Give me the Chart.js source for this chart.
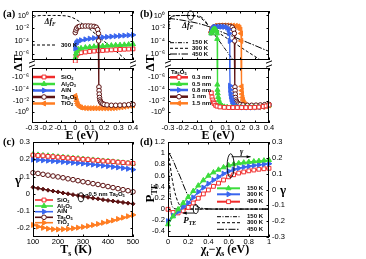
<!DOCTYPE html>
<html>
<head>
<meta charset="utf-8">
<script src="https://cdn.jsdelivr.net/npm/chart.js@4.4.1/dist/chart.umd.min.js"></script>
<style>
  html, body { margin: 0; padding: 0; background: #fff; }
  #fig { position: relative; width: 366px; height: 259px; overflow: hidden; }
  #fig canvas { position: absolute; left: 0; top: 0; }
</style>
</head>
<body>
<div id="fig">
  <canvas id="aTop" width="366" height="259"></canvas>
  <canvas id="aBot" width="366" height="259"></canvas>
  <canvas id="bTop" width="366" height="259"></canvas>
  <canvas id="bBot" width="366" height="259"></canvas>
  <canvas id="cBox" width="366" height="259"></canvas>
  <canvas id="dBox" width="366" height="259"></canvas>
</div>
<script>
// --- データ ---
// (a) 300 K の ΔF
const eDfA = [-0.29, -0.28, -0.26, -0.22, -0.15, -0.1, -0.06, -0.03, 0, 0.03, 0.05, 0.08, 0.1, 0.15, 0.2, 0.25, 0.3, 0.35, 0.4];
const dfA300 = [4.0e-1, 7.1e-1, 8.9e-1, 1.0, 1.0, 9.5e-1, 8.3e-1, 5.6e-1, 2.8e-1, 1.0e-1, 4.5e-2, 1.6e-2, 7.1e-3, 7.9e-4, 8.9e-5, 1.0e-5, 1.1e-6, 1.1e-7, 1.3e-8];

// (a) 材料ごとの ΔT
const eMatA = [0, 0.005, 0.01, 0.02, 0.04, 0.07, 0.1, 0.13, 0.16, 0.19, 0.22, 0.25, 0.28, 0.31, 0.34, 0.37, 0.4];
const sio2A = [6.3e-8, 4.0e-7, 7.9e-7, 1.12e-6, 1.41e-6, 1.78e-6, 2.19e-6, 2.51e-6, 2.88e-6, 3.16e-6, 3.55e-6, 3.89e-6, 4.27e-6, 4.57e-6, 4.9e-6, 5.25e-6, 5.62e-6];
const al2o3A = [2.0e-7, 1.0e-6, 2.5e-6, 5.0e-6, 7.1e-6, 9.3e-6, 1.12e-5, 1.29e-5, 1.45e-5, 1.58e-5, 1.78e-5, 1.95e-5, 2.14e-5, 2.29e-5, 2.51e-5, 2.75e-5, 3.02e-5];
const alnA = [6.3e-6, 3.2e-5, 5.6e-5, 8.9e-5, 1.26e-4, 1.74e-4, 2.24e-4, 2.69e-4, 3.16e-4, 3.63e-4, 4.17e-4, 4.79e-4, 5.5e-4, 6.17e-4, 6.92e-4, 7.76e-4, 8.71e-4];
// Ta2O5 1 nm ((a) と (b) で共通)
const eTa1 = [0, 0.005, 0.01, 0.02, 0.03, 0.05, 0.07, 0.09, 0.11, 0.13, 0.145, 0.155, 0.16, 0.162, 0.164, 0.165, 0.166, 0.168, 0.171, 0.175, 0.18, 0.19, 0.2, 0.22, 0.25, 0.28, 0.31, 0.34, 0.37, 0.4];
const ta1 = [2.0e-3, 5.0e-3, 1.0e-2, 1.6e-2, 1.9e-2, 2.1e-2, 2.2e-2, 2.2e-2, 2.1e-2, 1.9e-2, 1.4e-2, 6.0e-3, 1.5e-3, 1.0e-4, -5.0e-5, -2.0e-4, -8.0e-4, -3.0e-3, -8.0e-3, -1.5e-2, -2.5e-2, -3.5e-2, -4.5e-2, -5.5e-2, -6.3e-2, -6.3e-2, -6.0e-2, -5.6e-2, -5.0e-2, -4.5e-2];
const eTiA = [0, 0.005, 0.01, 0.015, 0.02, 0.03, 0.04, 0.06, 0.08, 0.1, 0.12, 0.14, 0.16, 0.18, 0.2, 0.22, 0.24, 0.26, 0.28, 0.3, 0.32, 0.34, 0.36, 0.38, 0.4];
const tio2A = [-1.6e-3, -4.0e-3, -1.26e-2, -3.2e-2, -6.3e-2, -1.12e-1, -1.51e-1, -1.82e-1, -1.95e-1, -2.0e-1, -2.0e-1, -2.0e-1, -2.0e-1, -2.0e-1, -2.0e-1, -2.0e-1, -2.0e-1, -1.91e-1, -1.74e-1, -1.51e-1, -1.32e-1, -1.12e-1, -9.3e-2, -7.6e-2, -6.0e-2];

// (b) 温度ごとの ΔF
const eDfB = [-0.3, -0.29, -0.28, -0.26, -0.22, -0.18, -0.14, -0.1, -0.07, -0.04, -0.016, 0, 0.05, 0.1, 0.15, 0.2, 0.25, 0.3, 0.35, 0.4];
const df150 = [6.3e-4, 6.3e-2, 5.0e-1, 8.9e-1, 1.0, 1.0, 1.0, 8.9e-1, 5.6e-1, 1.26e-1, 1.58e-2, 5.0e-3, 1.41e-4, 4.0e-6, 1.12e-7, 3.2e-9, 1.0e-10, 3.2e-12, 1.0e-13, 3.2e-15];
const df300 = [3.2e-2, 2.5e-1, 5.6e-1, 8.3e-1, 9.5e-1, 1.0, 9.3e-1, 7.1e-1, 3.5e-1, 7.9e-2, 1.78e-2, 1.05e-2, 1.9e-3, 3.5e-4, 6.5e-5, 1.17e-5, 2.1e-6, 4.0e-7, 7.1e-8, 1.26e-8];
const df450 = [3.5e-1, 3.4e-1, 3.2e-1, 2.8e-1, 2.1e-1, 1.48e-1, 1.0e-1, 6.3e-2, 4.2e-2, 2.7e-2, 1.74e-2, 1.2e-2, 4.0e-3, 1.41e-3, 5.0e-4, 1.66e-4, 5.8e-5, 2.0e-5, 6.6e-6, 2.24e-6];

// (b) Ta2O5 膜厚ごとの ΔT
const e03 = [0, 0.005, 0.01, 0.015, 0.02, 0.03, 0.04, 0.06, 0.09, 0.12, 0.15, 0.18, 0.21, 0.24, 0.27, 0.3, 0.33, 0.36, 0.38, 0.4];
const t03 = [-5.0e-4, -2.5e-3, -7.9e-3, -1.78e-2, -3.16e-2, -6.3e-2, -8.9e-2, -1.2e-1, -1.41e-1, -1.51e-1, -1.51e-1, -1.51e-1, -1.51e-1, -1.51e-1, -1.51e-1, -1.41e-1, -1.26e-1, -1.0e-1, -7.9e-2, -5.6e-2];
const e05 = [0, 0.005, 0.01, 0.015, 0.02, 0.025, 0.03, 0.035, 0.039, 0.041, 0.042, 0.043, 0.045, 0.048, 0.052, 0.058, 0.065, 0.075, 0.09, 0.11, 0.14, 0.17, 0.2, 0.23, 0.26, 0.29, 0.32, 0.35, 0.38, 0.4];
const t05 = [1.5e-3, 3.0e-3, 5.0e-3, 6.5e-3, 7.0e-3, 7.0e-3, 6.0e-3, 4.0e-3, 1.5e-3, 2.0e-4, -2.0e-5, -1.5e-4, -6.0e-4, -2.5e-3, -8.0e-3, -2.5e-2, -5.0e-2, -8.0e-2, -1.1e-1, -1.3e-1, -1.45e-1, -1.5e-1, -1.5e-1, -1.5e-1, -1.5e-1, -1.45e-1, -1.35e-1, -1.15e-1, -8.5e-2, -6.5e-2];
const e08 = [0, 0.005, 0.01, 0.02, 0.03, 0.05, 0.07, 0.09, 0.11, 0.12, 0.125, 0.128, 0.13, 0.131, 0.133, 0.136, 0.14, 0.145, 0.152, 0.16, 0.17, 0.19, 0.22, 0.25, 0.28, 0.31, 0.34, 0.37, 0.4];
const t08 = [2.0e-3, 5.0e-3, 9.0e-3, 1.4e-2, 1.6e-2, 1.7e-2, 1.7e-2, 1.6e-2, 1.2e-2, 6.0e-3, 1.5e-3, 1.0e-4, -3.0e-5, -1.5e-4, -6.0e-4, -2.0e-3, -6.0e-3, -1.5e-2, -3.5e-2, -6.0e-2, -9.0e-2, -1.2e-1, -1.4e-1, -1.5e-1, -1.5e-1, -1.45e-1, -1.3e-1, -1.05e-1, -7.0e-2];
const e15 = [0, 0.005, 0.01, 0.02, 0.03, 0.05, 0.07, 0.09, 0.11, 0.13, 0.15, 0.17, 0.185, 0.195, 0.202, 0.206, 0.208, 0.21, 0.211, 0.213, 0.216, 0.22, 0.225, 0.232, 0.24, 0.25, 0.27, 0.3, 0.33, 0.36, 0.38, 0.4];
const t15 = [2.5e-3, 6.0e-3, 1.2e-2, 1.9e-2, 2.3e-2, 2.6e-2, 2.7e-2, 2.7e-2, 2.7e-2, 2.6e-2, 2.5e-2, 2.3e-2, 1.9e-2, 1.3e-2, 6.0e-3, 1.5e-3, 1.0e-4, -4.0e-5, -2.0e-4, -8.0e-4, -3.0e-3, -8.0e-3, -2.0e-2, -4.0e-2, -6.5e-2, -9.0e-2, -1.2e-1, -1.4e-1, -1.4e-1, -1.2e-1, -9.0e-2, -6.5e-2];

// (c) γ vs Ts
const tsK = [100, 120, 140, 160, 180, 200, 220, 240, 260, 280, 300, 320, 340, 360, 380, 400, 420, 440, 460, 480, 500];
const gSiO2 = [0.224, 0.222, 0.220, 0.217, 0.215, 0.212, 0.210, 0.207, 0.205, 0.202, 0.200, 0.198, 0.195, 0.193, 0.190, 0.188, 0.186, 0.183, 0.181, 0.178, 0.176];
const gAl2O3 = [0.228, 0.226, 0.223, 0.221, 0.218, 0.215, 0.213, 0.210, 0.207, 0.205, 0.202, 0.199, 0.197, 0.194, 0.191, 0.189, 0.186, 0.183, 0.180, 0.178, 0.175];
const gAlN = [0.198, 0.196, 0.194, 0.192, 0.190, 0.188, 0.185, 0.183, 0.180, 0.178, 0.175, 0.172, 0.169, 0.166, 0.163, 0.160, 0.156, 0.153, 0.149, 0.145, 0.140];
const gTa2O5 = [0.122, 0.118, 0.113, 0.108, 0.103, 0.098, 0.093, 0.087, 0.082, 0.076, 0.070, 0.065, 0.059, 0.054, 0.048, 0.042, 0.036, 0.030, 0.024, 0.018, 0.012];
const gTa05 = [0.038, 0.032, 0.027, 0.021, 0.016, 0.011, 0.005, 0.000, -0.005, -0.010, -0.015, -0.020, -0.025, -0.029, -0.034, -0.038, -0.042, -0.046, -0.050, -0.054, -0.058];
const gTiO2 = [-0.180, -0.190, -0.197, -0.202, -0.205, -0.206, -0.205, -0.203, -0.200, -0.196, -0.192, -0.187, -0.181, -0.175, -0.168, -0.161, -0.154, -0.146, -0.138, -0.130, -0.122];

// (d) γ と P_TE vs χt-χs
const chi = [0, 0.05, 0.1, 0.15, 0.2, 0.25, 0.3, 0.35, 0.4, 0.45, 0.5, 0.55, 0.6, 0.65, 0.7, 0.75, 0.8, 0.85, 0.9, 0.95, 1.0];
const g150 = [-0.22, -0.17, -0.125, -0.085, -0.048, -0.01, 0.025, 0.058, 0.087, 0.108, 0.125, 0.14, 0.152, 0.16, 0.166, 0.17, 0.174, 0.177, 0.18, 0.183, 0.186];
const g300 = [-0.2, -0.165, -0.14, -0.11, -0.085, -0.05, -0.015, 0.012, 0.037, 0.06, 0.08, 0.1, 0.116, 0.127, 0.135, 0.142, 0.147, 0.152, 0.156, 0.16, 0.163];
const g450 = [-0.125, -0.145, -0.148, -0.135, -0.113, -0.085, -0.055, -0.028, -0.003, 0.02, 0.04, 0.06, 0.08, 0.093, 0.104, 0.111, 0.118, 0.123, 0.128, 0.131, 0.134];
const chiP = [0, 0.01, 0.02, 0.03, 0.04, 0.05, 0.06, 0.08, 0.1, 0.12, 0.15, 0.18, 0.2, 0.25, 0.3, 0.35, 0.4, 0.5, 0.6, 0.8, 1.0];
const p150 = [1.0, 0.6, 0.3, 0.14, 0.06, 0.025, 0.01, 0.002, 0, 0, 0, 0, 0, 0, 0, 0, 0, 0, 0, 0, 0];
const p300 = [1.0, 0.92, 0.8, 0.67, 0.55, 0.45, 0.36, 0.22, 0.12, 0.06, 0.02, 0.006, 0.003, 0, 0, 0, 0, 0, 0, 0, 0];
const p450 = [1.0, 0.99, 0.97, 0.94, 0.9, 0.87, 0.83, 0.74, 0.66, 0.58, 0.44, 0.31, 0.23, 0.11, 0.035, 0.01, 0.003, 0, 0, 0, 0];

// 目盛り
const eTicks = [-0.3, -0.2, -0.1, 0, 0.1, 0.2, 0.3, 0.4];
const logTicks = [1, 1e-2, 1e-4, 1e-6];
const logPosLabels = ['10⁰', '10⁻²', '10⁻⁴', '10⁻⁶'];
const logNegTicks = [1e-6, 1e-4, 1e-2, 1];
const logNegLabels = ['-10⁻⁶', '-10⁻⁴', '-10⁻²', '-10⁰'];
const tsTicks = [100, 200, 300, 400, 500];
const gTicksC = [-0.2, -0.1, 0, 0.1, 0.2, 0.3];
const chiTicks = [0, 0.2, 0.4, 0.6, 0.8, 1];
const pTicks = [-0.4, -0.2, 0, 0.2, 0.4, 0.6, 0.8, 1, 1.2];
const gTicksD = [-0.3, -0.2, -0.1, 0, 0.1, 0.2, 0.3];

// --- 見た目 ---
const W = 366, H = 259, YW = 30;
const SANS = 'Liberation Sans', SERIF = 'Liberation Serif';
Chart.defaults.font.family = SANS;
Chart.defaults.font.size = 7.5;
Chart.defaults.color = '#000';

const ST = {
  sio2: { c: '#f02c2c', ps: 'rect', open: true, r: 2.7 },
  al2o3: { c: '#3cdc3c', ps: 'triangle', r: 2.9 },
  aln: { c: '#3a66ee', ps: 'triangle', rot: 90, r: 2.9 },
  ta2o5: { c: '#5c1212', ps: 'circle', open: true, r: 2.3 },
  tio2: { c: '#ff7d22', ps: 'triangle', rot: -90, r: 2.9 },
  tio2c: { c: '#ff7d22', ps: 'triangle', rot: 90, r: 2.9 },
  ta05: { c: '#5c1212', ps: 'rectRot', r: 2.0 },
};
const DASH = { k150: [4, 1.5, 1, 1.5], k300: [3, 2], k450: [7, 1.5, 1.5, 1.5] };
const LBL = {
  sio2: [['SiO', 0], ['2', 1]],
  al2o3: [['Al', 0], ['2', 1], ['O', 0], ['3', 1]],
  aln: [['AlN', 0]],
  ta2o5: [['Ta', 0], ['2', 1], ['O', 0], ['5', 1]],
  tio2: [['TiO', 0], ['2', 1]],
};

// 正負で分割表示 (対数軸の上下)
const TINY = 1e-12;
const pts = (xs, ys) => xs.map((x, i) => ({ x, y: ys[i] }));
const upper = (xs, ys) => xs.map((x, i) => ({ x, y: ys[i] > 0 ? ys[i] : TINY }));
const lower = (xs, ys) => xs.map((x, i) => ({ x, y: ys[i] < 0 ? -ys[i] : TINY }));

function series(label, data, st, extra) {
  return Object.assign({
    label, data, borderColor: st.c, borderWidth: 1.3, tension: 0,
    pointStyle: st.ps, pointRotation: st.rot || 0, pointRadius: st.r,
    pointBackgroundColor: st.open ? '#fff' : st.c, pointBorderColor: st.c, pointBorderWidth: 1,
  }, extra);
}
function curve(label, data, dash, extra) {
  return Object.assign({
    label, data, borderColor: '#000', borderWidth: 1, borderDash: dash,
    pointRadius: 0, cubicInterpolationMode: 'monotone',
  }, extra);
}

function axisX(min, max, ticks, show) {
  const s = {
    type: 'linear', min, max, display: show,
    afterBuildTicks: sc => { sc.ticks = ticks.map(v => ({ value: v })); },
    grid: { display: false, drawTicks: false }, border: { display: false },
    ticks: { autoSkip: false, maxRotation: 0, minRotation: 0, padding: 0, callback: v => String(v) },
  };
  if (show) s.afterFit = sc => { sc.height = 16; };
  return s;
}
function axisY(type, min, max, ticks, labels, extra) {
  return Object.assign({
    type, min, max, position: 'left',
    afterBuildTicks: sc => { sc.ticks = ticks.map(v => ({ value: v })); },
    afterFit: sc => { sc.width = YW; },
    grid: { display: false, drawTicks: false }, border: { display: false },
    ticks: { autoSkip: false, padding: 3, callback: (v, i) => labels[i] },
  }, extra);
}

const framePlugin = {
  id: 'frame',
  afterDatasetsDraw(chart) {
    const { ctx, chartArea: a, scales } = chart;
    ctx.save();
    ctx.strokeStyle = '#000';
    ctx.lineWidth = 1;
    ctx.strokeRect(a.left + 0.5, a.top + 0.5, a.right - a.left - 1, a.bottom - a.top - 1);
    ctx.beginPath();
    const tl = 2.5;
    for (const t of scales.x.ticks) {
      const p = Math.round(scales.x.getPixelForValue(t.value)) + 0.5;
      ctx.moveTo(p, a.bottom); ctx.lineTo(p, a.bottom - tl);
      ctx.moveTo(p, a.top); ctx.lineTo(p, a.top + tl);
    }
    const ys = Object.values(scales).filter(s => s.axis === 'y');
    for (const s of ys) {
      for (const t of s.ticks) {
        const p = Math.round(s.getPixelForValue(t.value)) + 0.5;
        if (s.position === 'left') {
          ctx.moveTo(a.left, p); ctx.lineTo(a.left + tl, p);
          if (ys.length === 1) { ctx.moveTo(a.right, p); ctx.lineTo(a.right - tl, p); }
        } else {
          ctx.moveTo(a.right, p); ctx.lineTo(a.right - tl, p);
        }
      }
    }
    ctx.stroke();
    ctx.restore();
  },
};

function panel(id, box, datasets, scales, draw) {
  const pad = { left: box.l - YW, top: box.t, right: W - box.r - (box.rw || 0), bottom: H - box.b - (box.xh || 0) };
  return new Chart(document.getElementById(id), {
    type: 'line',
    data: { datasets },
    options: {
      responsive: false, animation: false, events: [],
      layout: { padding: pad },
      plugins: { legend: { display: false }, tooltip: { enabled: false } },
      scales,
    },
    plugins: [framePlugin, { id: 'extras', afterDraw: c => { if (draw) draw(c.ctx, c); } }],
  });
}

// --- 文字・凡例の描画 ---
function rich(ctx, x, y, segs, size, opt) {
  opt = Object.assign({ family: SERIF, weight: 'bold', align: 'center', rot: 0 }, opt);
  const fontOf = k => `${(k & 2) ? 'italic ' : ''}${opt.weight} ${(k & 1) ? size * 0.65 : size}px "${opt.family}"`;
  ctx.save();
  ctx.translate(x, y);
  if (opt.rot) ctx.rotate(opt.rot);
  let w = 0;
  segs.forEach(([t, k]) => { ctx.font = fontOf(k); w += ctx.measureText(t).width; });
  let cx = opt.align === 'center' ? -w / 2 : opt.align === 'right' ? -w : 0;
  ctx.textBaseline = 'middle';
  ctx.textAlign = 'left';
  ctx.fillStyle = '#000';
  segs.forEach(([t, k]) => {
    ctx.font = fontOf(k);
    ctx.fillText(t, cx, (k & 1) ? size * 0.3 : 0);
    cx += ctx.measureText(t).width;
  });
  ctx.restore();
}
function mark(ctx, st, x, y) {
  ctx.save();
  ctx.translate(x, y);
  ctx.rotate((st.rot || 0) * Math.PI / 180);
  const r = st.r;
  ctx.beginPath();
  if (st.ps === 'rect') { const s = r * Math.SQRT1_2; ctx.rect(-s, -s, 2 * s, 2 * s); }
  else if (st.ps === 'rectRot') { ctx.moveTo(0, -r); ctx.lineTo(r, 0); ctx.lineTo(0, r); ctx.lineTo(-r, 0); ctx.closePath(); }
  else if (st.ps === 'circle') ctx.arc(0, 0, r, 0, Math.PI * 2);
  else { ctx.moveTo(0, -r); ctx.lineTo(r * 0.866, r * 0.5); ctx.lineTo(-r * 0.866, r * 0.5); ctx.closePath(); }
  ctx.fillStyle = st.open ? '#fff' : st.c;
  ctx.fill();
  ctx.lineWidth = 1;
  ctx.strokeStyle = st.c;
  ctx.stroke();
  ctx.restore();
}
function seg(ctx, x0, y0, x1, y1, color, lw, dash) {
  ctx.save();
  ctx.strokeStyle = color; ctx.lineWidth = lw; ctx.setLineDash(dash || []);
  ctx.beginPath(); ctx.moveTo(x0, y0); ctx.lineTo(x1, y1); ctx.stroke();
  ctx.restore();
}
function legendRow(ctx, st, x0, x1, y, label, tx, lw, dash) {
  seg(ctx, x0, y, x1, y, st ? st.c : '#000', lw, dash);
  if (st) mark(ctx, st, (x0 + x1) / 2, y);
  rich(ctx, tx, y, label, 6, { family: SANS, align: 'left' });
}
function ellipse(ctx, cx, cy, rx, ry) {
  ctx.save();
  ctx.strokeStyle = '#000'; ctx.lineWidth = 0.9;
  ctx.beginPath(); ctx.ellipse(cx, cy, rx, ry, 0, 0, Math.PI * 2); ctx.stroke();
  ctx.restore();
}
function arrow(ctx, x0, y0, x1, y1) {
  seg(ctx, x0, y0, x1, y1, '#000', 0.9);
  const a = Math.atan2(y1 - y0, x1 - x0);
  ctx.save();
  ctx.fillStyle = '#000';
  ctx.beginPath();
  ctx.moveTo(x1, y1);
  ctx.lineTo(x1 - 4 * Math.cos(a) + 1.6 * Math.sin(a), y1 - 4 * Math.sin(a) - 1.6 * Math.cos(a));
  ctx.lineTo(x1 - 4 * Math.cos(a) - 1.6 * Math.sin(a), y1 - 4 * Math.sin(a) + 1.6 * Math.cos(a));
  ctx.closePath(); ctx.fill();
  ctx.restore();
}
function breakMarks(ctx, xs) {
  xs.forEach(x => {
    [62, 66].forEach(y => seg(ctx, x - 3, y + 1.2, x + 3, y - 1.2, '#000', 1));
  });
}

const clipTop = { left: 4, right: 4, top: 4, bottom: 8 };
const clipBot = { left: 4, right: 4, top: 8, bottom: 4 };
const clipPlain = { left: 4, right: 4, top: 4, bottom: 3 };

// --- (a) ---
panel('aTop', { l: 32, t: 11, r: 133, b: 60 }, [
  series('Ta₂O₅', upper(eTa1, ta1), ST.ta2o5, { clip: clipTop }),
  series('AlN', pts(eMatA, alnA), ST.aln, { clip: clipPlain }),
  series('Al₂O₃', pts(eMatA, al2o3A), ST.al2o3, { clip: clipPlain }),
  series('SiO₂', pts(eMatA, sio2A), ST.sio2, { clip: clipPlain }),
  curve('ΔF 300 K', pts(eDfA, dfA300), DASH.k300),
], {
  x: axisX(-0.3, 0.4, eTicks, false),
  y: axisY('logarithmic', 1e-7, 5.01, logTicks, logPosLabels),
}, ctx => {
  rich(ctx, 3, 14, [['(a)', 0]], 10.5, { align: 'left' });
  seg(ctx, 32, 45, 57, 45, '#000', 1, DASH.k300);
  rich(ctx, 61, 45, [['300 K', 0]], 6, { family: SANS, align: 'left' });
  rich(ctx, 50, 22, [['Δf', 2], ['F', 3]], 8);
});

panel('aBot', { l: 32, t: 68, r: 133, b: 123, xh: 16 }, [
  series('Ta₂O₅', lower(eTa1, ta1), ST.ta2o5, { clip: clipBot }),
  series('TiO₂', lower(eTiA, tio2A), ST.tio2, { clip: clipBot }),
], {
  x: axisX(-0.3, 0.4, eTicks, true),
  y: axisY('logarithmic', 3.16e-8, 63.1, logNegTicks, logNegLabels, { reverse: true }),
}, ctx => {
  breakMarks(ctx, [32, 133]);
  rich(ctx, 19, 63, [['ΔT', 0]], 13, { rot: -Math.PI / 2 });
  rich(ctx, 82, 136, [['E (eV)', 0]], 12);
  const ys = [77, 84, 90.5, 97, 103.5];
  ['sio2', 'al2o3', 'aln', 'ta2o5', 'tio2'].forEach((k, i) => legendRow(ctx, ST[k], 33, 55, ys[i], LBL[k], 61, 2.5));
});

// --- (b) ---
panel('bTop', { l: 168, t: 11, r: 269, b: 60 }, [
  series('0.5 nm', upper(e05, t05), ST.al2o3, { clip: clipTop }),
  series('0.8 nm', upper(e08, t08), ST.aln, { clip: clipTop }),
  series('1 nm', upper(eTa1, ta1), ST.ta2o5, { clip: clipTop }),
  series('1.5 nm', upper(e15, t15), ST.tio2, { clip: clipTop }),
  curve('150 K', pts(eDfB, df150), DASH.k150),
  curve('300 K', pts(eDfB, df300), DASH.k300),
  curve('450 K', pts(eDfB, df450), DASH.k450),
], {
  x: axisX(-0.3, 0.4, eTicks, false),
  y: axisY('logarithmic', 1e-7, 5.01, logTicks, logPosLabels),
}, (ctx, c) => {
  rich(ctx, 140, 14, [['(b)', 0]], 10.5, { align: 'left' });
  const labs = ['150 K', '300 K', '450 K'];
  [DASH.k150, DASH.k300, DASH.k450].forEach((d, i) => legendRow(ctx, null, 170, 188, [42.7, 48.3, 54][i], [[labs[i], 0]], 192, 1, d));
  const ex = c.scales.x.getPixelForValue(-0.143), ey = c.scales.y.getPixelForValue(1);
  ellipse(ctx, ex, ey, 3, 4.5);
  rich(ctx, ex - 3, ey + 10, [['Δf', 2], ['F', 3]], 8);
});

panel('bBot', { l: 168, t: 68, r: 269, b: 123, xh: 16 }, [
  series('0.3 nm', lower(e03, t03), ST.sio2, { clip: clipBot }),
  series('0.5 nm', lower(e05, t05), ST.al2o3, { clip: clipBot }),
  series('0.8 nm', lower(e08, t08), ST.aln, { clip: clipBot }),
  series('1 nm', lower(eTa1, ta1), ST.ta2o5, { clip: clipBot }),
  series('1.5 nm', lower(e15, t15), ST.tio2, { clip: clipBot }),
], {
  x: axisX(-0.3, 0.4, eTicks, true),
  y: axisY('logarithmic', 3.16e-8, 63.1, logNegTicks, logNegLabels, { reverse: true }),
}, ctx => {
  breakMarks(ctx, [168, 269]);
  rich(ctx, 150.5, 63, [['ΔT', 0]], 13, { rot: -Math.PI / 2 });
  rich(ctx, 218, 136, [['E (eV)', 0]], 12);
  rich(ctx, 171, 72, LBL.ta2o5, 6, { family: SANS, align: 'left' });
  const labs = ['0.3 nm', '0.5 nm', '0.8 nm', '1 nm', '1.5 nm'];
  const ys = [77.3, 84, 90, 96.7, 103.3];
  ['sio2', 'al2o3', 'aln', 'ta2o5', 'tio2'].forEach((k, i) => legendRow(ctx, ST[k], 170, 188, ys[i], [[labs[i], 0]], 192, 2.5));
});

// --- (c) ---
panel('cBox', { l: 33, t: 142, r: 133, b: 237, xh: 16 }, [
  series('SiO₂', pts(tsK, gSiO2), ST.sio2, { clip: clipPlain }),
  series('Al₂O₃', pts(tsK, gAl2O3), ST.al2o3, { clip: clipPlain }),
  series('AlN', pts(tsK, gAlN), ST.aln, { clip: clipPlain }),
  series('Ta₂O₅', pts(tsK, gTa2O5), ST.ta2o5, { clip: clipPlain }),
  series('0.5 nm Ta₂O₅', pts(tsK, gTa05), ST.ta05, { clip: clipPlain }),
  series('TiO₂', pts(tsK, gTiO2), ST.tio2c, { clip: clipPlain }),
], {
  x: axisX(100, 500, tsTicks, true),
  y: axisY('linear', -0.25, 0.3, gTicksC, gTicksC.map(String)),
}, (ctx, c) => {
  rich(ctx, 3, 142.5, [['(c)', 0]], 10.5, { align: 'left' });
  rich(ctx, 18, 181, [['γ', 0]], 13);
  rich(ctx, 76, 250, [['T', 0], ['s', 1], [' (K)', 0]], 12);
  const ys = [200, 206, 211.7, 217.3, 222.7];
  ['sio2', 'al2o3', 'aln', 'ta2o5', 'tio2c'].forEach((k, i) => legendRow(ctx, ST[k], 35, 53, ys[i], LBL[k === 'tio2c' ? 'tio2' : k], 57, 1.6));
  const ex = c.scales.x.getPixelForValue(292), ey = c.scales.y.getPixelForValue(-0.02);
  ellipse(ctx, ex, ey, 2.8, 4.5);
  seg(ctx, ex + 2.8, ey - 1.5, ex + 7, ey - 3, '#000', 0.9);
  rich(ctx, ex + 7.5, ey - 3, [['0.5 nm Ta', 0], ['2', 1], ['O', 0], ['5', 1]], 6, { family: SANS, align: 'left' });
});

// --- (d) ---
panel('dBox', { l: 168, t: 142, r: 269, b: 237, xh: 16, rw: 20 }, [
  series('150 K', pts(chi, g150), ST.al2o3, { yAxisID: 'y2', clip: clipPlain }),
  series('300 K', pts(chi, g300), ST.aln, { yAxisID: 'y2', clip: clipPlain }),
  series('450 K', pts(chi, g450), ST.sio2, { yAxisID: 'y2', clip: clipPlain }),
  curve('P 150 K', pts(chiP, p150), DASH.k150),
  curve('P 300 K', pts(chiP, p300), DASH.k300),
  curve('P 450 K', pts(chiP, p450), DASH.k450),
], {
  x: axisX(0, 1, chiTicks, true),
  y: axisY('linear', -0.5, 1.2, pTicks, pTicks.map(String)),
  y2: axisY('linear', -0.3, 0.3, gTicksD, gTicksD.map(String), { position: 'right', afterFit: sc => { sc.width = 20; } }),
}, (ctx, c) => {
  rich(ctx, 140, 142.5, [['(d)', 0]], 10.5, { align: 'left' });
  rich(ctx, 151, 193, [['P', 0], ['TE', 1]], 13, { rot: -Math.PI / 2 });
  rich(ctx, 283, 191, [['γ', 0]], 13);
  rich(ctx, 225, 250, [['χ', 0], ['t', 1], ['−χ', 0], ['s', 1], [' (eV)', 0]], 12);
  const labs = ['150 K', '300 K', '450 K'];
  ['al2o3', 'aln', 'sio2'].forEach((k, i) => legendRow(ctx, ST[k], 217, 240, [188.3, 194.3, 201.7][i], [[labs[i], 0]], 247, 2));
  [DASH.k150, DASH.k300, DASH.k450].forEach((d, i) => legendRow(ctx, null, 217, 240, [216.7, 222.7, 229.3][i], [[labs[i], 0]], 247, 1, d));
  const gx = c.scales.x.getPixelForValue(0.62), gy = c.scales.y2.getPixelForValue(0.15);
  ellipse(ctx, gx, gy, 3.5, 12);
  arrow(ctx, gx + 1, gy - 9, gx + 20, gy - 9);
  rich(ctx, gx + 11, gy - 14, [['γ', 2]], 8);
  const px = c.scales.x.getPixelForValue(0.275), py = c.scales.y.getPixelForValue(0);
  ellipse(ctx, px, py, 2.5, 4.5);
  arrow(ctx, px - 1, py + 4, px - 13, py + 4);
  rich(ctx, px - 6, py + 12, [['P', 2], ['TE', 3]], 9);
});
</script>
</body>
</html>
